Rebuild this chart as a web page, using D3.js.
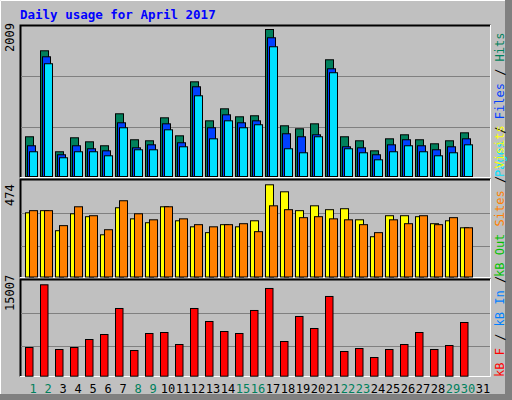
<!DOCTYPE html>
<html>
<head>
<meta charset="utf-8">
<script src="https://cdn.jsdelivr.net/npm/d3@7"></script>
<style>
body{margin:0;background:#fff}
text{font-family:"DejaVu Sans Mono",monospace}
</style>
</head>
<body>
<svg id="chart" width="512" height="400"></svg>
<script>
// daily values
let days = d3.range(1, 32)
let weekend = [1,2,8,9,15,16,22,23,29,30]
let hits  = [543,1718,338,529,474,420,857,502,488,802,556,1294,761,925,816,830,2009,693,652,720,1595,543,488,351,515,570,502,447,488,597,0]
let files = [420,1636,297,420,379,351,734,392,433,720,461,1226,666,843,734,761,1896,584,543,570,1472,406,392,297,433,502,420,365,406,515,0]
let pages = [338,1541,256,338,338,283,666,365,365,638,406,1103,515,761,666,707,1773,379,324,543,1418,379,324,228,338,420,338,283,324,433,0]
let visits = [330,341,238,325,310,217,356,299,279,361,289,258,228,269,258,289,474,438,341,366,346,351,294,207,315,315,310,274,289,253,0]
let sites  = [341,341,264,361,315,243,392,325,294,361,299,269,258,269,274,233,366,346,305,310,299,294,269,228,294,274,315,269,305,253,0]
let kbytes = [4710,15007,4382,4710,6025,6846,11118,4217,7011,7175,5203,11118,8982,7339,7011,10790,14404,5696,9804,7832,13090,4053,4546,3067,4382,5203,7175,4382,5039,8818,0]

let svg = d3.select("#chart")
svg.append("rect").attr("width",512).attr("height",400).attr("fill","#c0c0c0")
// outer 3d edge
svg.append("path").attr("d","M0.5,399.5V0.5H511.5").attr("stroke","#fff").attr("fill","none")
svg.append("rect").attr("x",505).attr("y",0).attr("width",7).attr("height",400).attr("fill","#808080")
svg.append("rect").attr("x",0).attr("y",394).attr("width",512).attr("height",6).attr("fill","#808080")

svg.append("text").attr("x",20).attr("y",19).text("Daily usage for April 2017")
    .attr("fill","#0000ff").attr("font-weight","bold").attr("font-size",12.5)

let x = d3.scaleLinear().domain([1,32]).range([25,490])

function panel(y0, y1, grids){
    svg.append("path").attr("d",`M${20.5},${y1+0.5}V${y0+0.5}H490.5`).attr("stroke","#000").attr("stroke-width",2).attr("fill","none")
    svg.append("path").attr("d",`M490.5,${y0}V${y1+0.5}H20`).attr("stroke","#fff").attr("fill","none")
    grids.forEach(g=>svg.append("line").attr("x1",21).attr("x2",490).attr("y1",g).attr("y2",g).attr("stroke","#808080"))
}

function bars(data, y, dx, w, color){
    svg.append("g").selectAll("rect").data(data.map((v,i)=>({v,i})).filter(d=>d.v>0)).enter().append("rect")
        .attr("x", d=>x(d.i+1)+dx+0.5)
        .attr("y", d=>y(d.v)+0.5)
        .attr("width", w)
        .attr("height", d=>y(0)-y(d.v))
        .attr("fill", color).attr("stroke","#000")
}

function vlabel(tx, ty, parts){
    let t = svg.append("text").attr("transform",`translate(${tx},${ty}) rotate(-90)`).attr("font-size",12)
    parts.forEach(p=>t.append("tspan").attr("fill",p[1]).text(p[0]))
}

// hits / files / pages
panel(25, 177, [76.5, 127.5])
let y1 = d3.scaleLinear().domain([0, 2009]).range([176, 29])
bars(hits, y1, 0, 8, "#00805c")
bars(files, y1, 2, 8, "#0040ff")
bars(pages, y1, 4, 8, "#00e0ff")
vlabel(14, 52, [["2009","#000"]])
vlabel(504, 177, [["Pages","#00e0ff"],[" / ","#000"],["Files","#0040ff"],[" / ","#000"],["Hits","#00805c"]])

// visits / sites
panel(179, 277, [213.5, 246.5])
let y2 = d3.scaleLinear().domain([0, 474]).range([276.5, 184.3])
bars(visits, y2, 0, 8, "#ffff00")
bars(sites, y2, 4, 8, "#ff8000")
vlabel(14, 206, [["474","#000"]])
vlabel(504, 277, [["kB Out","#00c000"],[" ","#000"],["Sites","#ff8000"],[" / ","#000"],["Visits","#ffff00"]])

// kbytes
panel(279, 376, [313.5, 346.5])
let y3 = d3.scaleLinear().domain([0, 15007]).range([375.7, 284.3])
bars(kbytes, y3, 0, 7.5, "#ff0000")
vlabel(14, 311, [["15007","#000"]])
vlabel(504, 377, [["kB F","#ff0000"],[" / ","#000"],["kB In","#0080ff"],[" / ","#000"]])

svg.append("g").selectAll("text").data(days).enter().append("text")
    .attr("x", d=>x(d)+8).attr("y", 393).attr("text-anchor","middle").attr("font-size",12)
    .attr("fill", d=>weekend.includes(d) ? "#00805c" : "#000")
    .text(d=>d)
</script>
</body>
</html>
